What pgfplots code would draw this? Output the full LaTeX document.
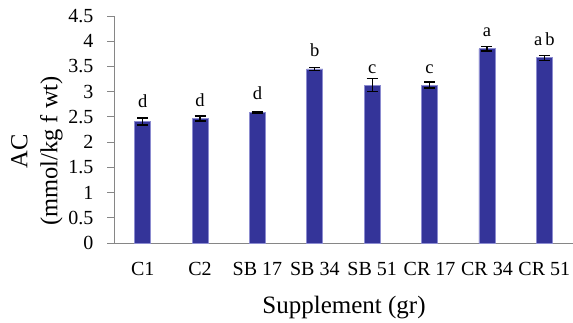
\documentclass[border=0pt]{standalone}
\usepackage{pgfplots}
\pgfplotsset{compat=1.18}
\usepackage{fontspec}
\setmainfont{Liberation Serif}
\definecolor{barblue}{HTML}{343499}
\definecolor{baredge}{HTML}{8C8CD0}
\definecolor{axgray}{HTML}{868686}
\begin{document}
\begin{tikzpicture}[x=1pt,y=1pt]
\useasboundingbox (0,0) rectangle (573,322);
\begin{axis}[
  at={(114pt,79pt)}, anchor=origin,
  scale only axis, width=459pt, height=227pt,
  xmin=0.5, xmax=8.5, ymin=0, ymax=4.5,
  axis x line=bottom, axis y line=left,
  axis line style={axgray, line width=1pt, -},
  xtick={1,2,3,4,5,6,7,8},
  xticklabels={C1,C2,SB 17,SB 34,SB 51,CR 17,CR 34,CR 51},
  major x tick style={draw=none},
  ytick={0,0.5,1,1.5,2,2.5,3,3.5,4,4.5},
  yticklabels={0,0.5,1,1.5,2,2.5,3,3.5,4,4.5},
  tick align=outside, major tick length=7pt,
  y tick style={axgray, line width=1pt},
  tick label style={font=\fontsize{20}{20}\selectfont},
  xticklabel style={yshift=-9pt},
  yticklabel style={xshift=-10pt},
  /pgf/number format/assume math mode=true,
  clip=false,
]
\addplot[ybar, bar width=16pt, fill=barblue, draw=baredge, line width=0.8pt,
  error bars/.cd, y dir=both, y explicit,
  error bar style={black, line width=1.3pt},
  error mark options={rotate=90, mark size=5.5pt, line width=1.3pt, black}]
coordinates {
 (1,2.41) +- (0,0.07)
 (2,2.47) +- (0,0.05)
 (3,2.59) +- (0,0.015)
 (4,3.45) +- (0,0.035)
 (5,3.13) +- (0,0.125)
 (6,3.13) +- (0,0.06)
 (7,3.85) +- (0,0.045)
 (8,3.67) +- (0,0.05)
};
\addplot[draw=none, mark=none, nodes near coords, point meta=explicit symbolic,
  every node near coord/.style={anchor=base, inner sep=0pt, font=\fontsize{18.5}{18.5}\selectfont, black}]
table[meta=l] {
x y l
1 2.68 d
2 2.70 d
3 2.84 d
4 3.69 b
5 3.37 c
6 3.37 c
7 4.09 a
8 3.91 a\,b
};
\end{axis}
\node[font=\fontsize{24.5}{30}\selectfont, rotate=90, align=center] at (37,171) {AC\\(mmol/kg f wt)};
\node[font=\fontsize{25}{25}\selectfont, anchor=base] at (344,9) {Supplement (gr)};
\end{tikzpicture}
\end{document}
